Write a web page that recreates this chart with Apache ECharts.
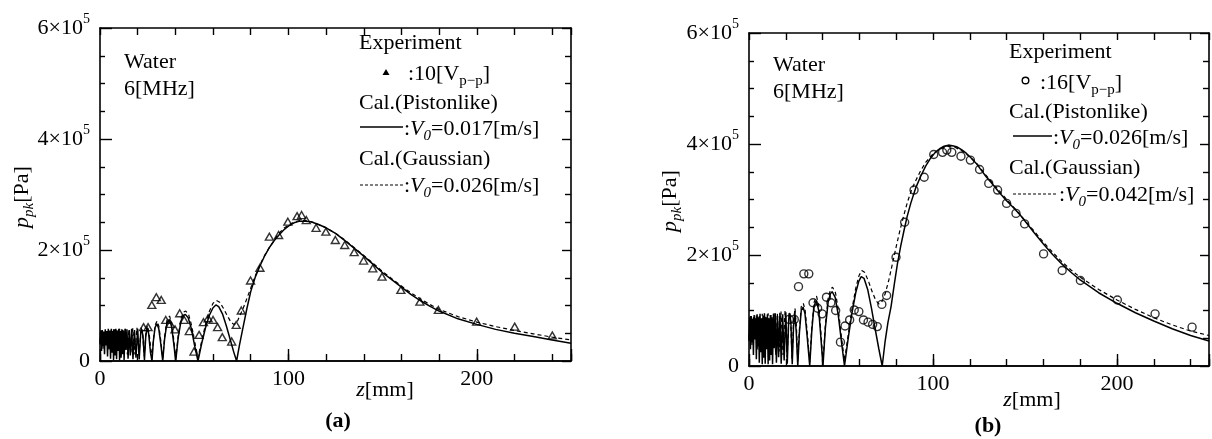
<!DOCTYPE html>
<html><head><meta charset="utf-8">
<script src="https://cdn.jsdelivr.net/npm/echarts@6/dist/echarts.min.js"></script>
<style>html,body{margin:0;padding:0;background:#fff}#c{width:1212px;height:439px}</style>
</head><body><div id="c"></div>
<script>
// z in mm, p in units of 10^5 Pa
const xTickLabels = [0, 100, 200];
const yTickLabels = [0, 2, 4, 6];

const expA = [[23.1,0.61],[25.5,0.61],[27.5,1.01],[29.9,1.15],[32.5,1.10],[34.9,0.74],[37.3,0.67],[39.8,0.57],[42.3,0.86],[44.7,0.74],[47.4,0.54],[49.9,0.17],[52.6,0.47],[54.9,0.70],[57.4,0.77],[60.0,0.74],[62.4,0.61],[64.9,0.43],[69.9,0.35],[72.3,0.65],[75.0,0.91],[79.9,1.45],[84.9,1.68],[89.9,2.24],[94.8,2.27],[99.7,2.51],[104.6,2.61],[107.0,2.63],[109.5,2.54],[114.7,2.40],[119.9,2.33],[124.9,2.18],[129.9,2.09],[134.9,1.96],[139.9,1.81],[144.8,1.67],[149.7,1.52],[159.7,1.28],[169.8,1.07],[179.6,0.92],[199.9,0.71],[220.1,0.62],[240.1,0.46]];

const pistonA = [[0,0.30],[0.4,0.55],[0.8,0.18],[1.2,0.56],[1.6,0.26],[2.0,0.53],[2.4,0.12],[2.8,0.57],[3.2,0.28],[3.6,0.54],[4.0,0.08],[4.4,0.58],[4.8,0.22],[5.2,0.55],[5.6,0.04],[6.0,0.58],[6.4,0.15],[6.8,0.54],[7.2,0.02],[7.6,0.57],[8.0,0.10],[8.4,0.58],[8.8,0.03],[9.2,0.55],[9.6,0.18],[10.0,0.58],[10.4,0.02],[10.8,0.54],[11.2,0.06],[11.6,0.57],[12.0,0.12],[12.4,0.55],[12.8,0.02],[13.3,0.58],[13.8,0.20],[14.3,0.57],[14.9,0.04],[15.5,0.56],[16.1,0.10],[16.8,0.58],[17.5,0.03],[18.3,0.56],[19.1,0.06],[20.0,0.58],[20.8,0.03],[21.6,0.50],[22.2,0.57],[22.8,0.45],[23.6,0.02],[24.3,0.45],[25.0,0.60],[25.8,0.50],[26.8,0.15],[27.6,0.00],[28.3,0.35],[29.2,0.60],[30.2,0.67],[31.2,0.58],[32.3,0.30],[33.3,0.00],[34.3,0.40],[35.5,0.68],[36.8,0.75],[38.0,0.62],[39.2,0.30],[40.2,0.00],[41.5,0.42],[43.0,0.72],[44.2,0.82],[45.3,0.84],[46.8,0.78],[48.5,0.58],[50.2,0.28],[52.0,0.00],[54.0,0.32],[56.0,0.60],[58.0,0.82],[60.0,0.96],[61.5,1.01],[63.0,0.98],[65.0,0.85],[67.0,0.64],[69.0,0.40],[71.0,0.16],[72.5,0.00],[74.0,0.28],[76.0,0.62],[78.0,0.95],[80.0,1.25],[82.5,1.52],[85.0,1.72],[87.5,1.90],[90.0,2.05],[92.5,2.17],[95.0,2.27],[97.5,2.36],[100.0,2.43],[103.0,2.49],[106.0,2.52],[109.0,2.52],[112.0,2.51],[116.0,2.46],[120.0,2.40],[125.0,2.30],[130.0,2.17],[135.0,2.03],[140.0,1.89],[145.0,1.74],[150.0,1.59],[155.0,1.46],[160.0,1.33],[165.0,1.20],[170.0,1.09],[175.0,0.99],[180.0,0.90],[190.0,0.76],[200.0,0.66],[210.0,0.57],[220.0,0.50],[230.0,0.44],[240.0,0.38],[250.0,0.32]];

const gaussA = [[0,0.35],[0.8,0.55],[1.6,0.22],[2.4,0.54],[3.2,0.30],[4.0,0.56],[4.8,0.18],[5.6,0.55],[6.4,0.26],[7.2,0.57],[8.0,0.15],[8.8,0.55],[9.6,0.24],[10.4,0.58],[11.2,0.14],[12.0,0.56],[12.8,0.22],[13.6,0.58],[14.5,0.12],[15.4,0.57],[16.4,0.16],[17.4,0.59],[18.5,0.12],[19.6,0.60],[20.7,0.10],[21.8,0.60],[22.6,0.50],[23.5,0.08],[24.3,0.48],[25.1,0.64],[26.0,0.52],[27.5,0.06],[28.4,0.40],[29.3,0.65],[30.3,0.72],[31.3,0.62],[32.4,0.33],[33.3,0.05],[34.3,0.44],[35.5,0.73],[36.9,0.81],[38.1,0.68],[39.3,0.34],[40.2,0.05],[41.5,0.45],[43.0,0.77],[44.3,0.88],[45.5,0.90],[47.0,0.84],[48.7,0.63],[50.4,0.32],[52.0,0.06],[54.0,0.36],[56.0,0.66],[58.0,0.89],[60.0,1.04],[61.8,1.09],[63.5,1.06],[65.5,0.95],[67.5,0.82],[69.5,0.70],[71.0,0.66],[72.5,0.68],[74.0,0.80],[76.0,0.95],[78.0,1.13],[80.0,1.31],[82.0,1.50],[84.0,1.66],[86.0,1.81],[88.0,1.94],[90.0,2.05],[92.5,2.18],[95.0,2.30],[97.5,2.39],[100.0,2.45],[103.0,2.50],[106.0,2.53],[109.0,2.53],[112.0,2.51],[116.0,2.46],[120.0,2.40],[125.0,2.30],[130.0,2.18],[135.0,2.04],[140.0,1.90],[145.0,1.76],[150.0,1.61],[155.0,1.48],[160.0,1.35],[165.0,1.23],[170.0,1.12],[175.0,1.02],[180.0,0.93],[190.0,0.80],[200.0,0.70],[210.0,0.62],[220.0,0.55],[230.0,0.49],[240.0,0.43],[250.0,0.38]];

const expB = [[21.9,0.84],[24.6,0.84],[26.9,1.43],[29.8,1.66],[32.5,1.66],[34.8,1.14],[37.3,1.04],[39.7,0.94],[42.1,1.24],[44.5,1.14],[47.1,1.00],[49.7,0.43],[52.2,0.72],[54.7,0.83],[57.2,1.01],[59.7,0.98],[62.2,0.83],[64.7,0.79],[67.2,0.75],[69.7,0.71],[72.2,1.11],[74.8,1.27],[79.9,1.96],[84.6,2.59],[89.7,3.17],[95.2,3.40],[100.4,3.81],[105.2,3.85],[107.5,3.89],[110.2,3.85],[115.2,3.78],[120.3,3.71],[125.3,3.54],[130.3,3.29],[135.1,3.17],[140.0,2.93],[145.1,2.75],[149.8,2.56],[160.1,2.02],[170.2,1.72],[180.1,1.54],[200.2,1.19],[220.7,0.94],[240.8,0.70]];

const pistonB = [[0,0.45],[0.4,0.88],[0.8,0.30],[1.2,0.90],[1.6,0.42],[2.0,0.85],[2.4,0.20],[2.8,0.92],[3.2,0.48],[3.6,0.86],[4.0,0.12],[4.4,0.93],[4.8,0.35],[5.2,0.88],[5.6,0.06],[6.0,0.94],[6.4,0.25],[6.8,0.86],[7.2,0.03],[7.6,0.91],[8.0,0.15],[8.4,0.95],[8.8,0.04],[9.2,0.88],[9.6,0.30],[10.0,0.93],[10.4,0.03],[10.8,0.86],[11.2,0.10],[11.6,0.92],[12.0,0.20],[12.4,0.88],[12.8,0.03],[13.3,0.94],[13.8,0.32],[14.3,0.95],[14.9,0.06],[15.5,0.90],[16.1,0.16],[16.8,0.96],[17.5,0.04],[18.3,0.93],[19.1,0.10],[20.0,0.97],[20.8,0.04],[21.6,0.85],[22.2,0.95],[22.8,0.75],[23.5,0.03],[24.2,0.70],[24.9,0.98],[25.7,0.60],[26.5,0.00],[27.4,0.60],[28.4,1.00],[29.4,1.06],[30.4,0.95],[31.7,0.50],[33.0,0.00],[34.1,0.62],[35.3,1.08],[36.6,1.18],[37.9,1.00],[39.1,0.50],[40.2,0.00],[41.5,0.68],[43.0,1.15],[44.2,1.30],[45.2,1.34],[46.8,1.24],[48.5,0.92],[50.2,0.45],[51.9,0.00],[54.0,0.52],[56.0,0.96],[58.0,1.32],[59.7,1.53],[61.0,1.61],[62.5,1.58],[64.5,1.38],[66.5,1.05],[68.5,0.68],[70.5,0.32],[72.4,0.00],[74.0,0.45],[75.5,0.78],[77.2,1.07],[79.0,1.48],[80.7,1.85],[82.5,2.17],[84.3,2.45],[86.0,2.70],[87.9,2.93],[90.5,3.20],[93.2,3.41],[96.0,3.60],[98.6,3.74],[101.0,3.84],[103.9,3.92],[106.0,3.96],[108.4,3.98],[110.5,3.97],[112.8,3.95],[115.5,3.90],[118.2,3.83],[121.0,3.74],[123.5,3.65],[126.2,3.53],[128.9,3.41],[131.5,3.31],[134.2,3.20],[137.0,3.09],[139.6,2.99],[142.3,2.90],[144.9,2.81],[147.6,2.71],[150.3,2.60],[155.0,2.40],[160.0,2.20],[165.0,2.01],[170.0,1.84],[175.0,1.69],[180.0,1.55],[190.0,1.32],[200.0,1.13],[210.0,0.96],[220.0,0.81],[230.0,0.67],[240.0,0.55],[250.0,0.45]];

const gaussB = [[0,0.50],[0.8,0.90],[1.6,0.38],[2.4,0.88],[3.2,0.50],[4.0,0.92],[4.8,0.30],[5.6,0.90],[6.4,0.42],[7.2,0.94],[8.0,0.25],[8.8,0.90],[9.6,0.40],[10.4,0.95],[11.2,0.22],[12.0,0.92],[12.8,0.36],[13.6,0.97],[14.5,0.20],[15.4,0.95],[16.4,0.26],[17.4,0.98],[18.5,0.20],[19.6,1.00],[20.7,0.16],[21.8,0.98],[22.6,0.85],[23.4,0.12],[24.2,0.78],[25.0,1.04],[25.8,0.70],[26.5,0.08],[27.4,0.66],[28.4,1.07],[29.5,1.13],[30.5,1.01],[31.8,0.55],[33.0,0.07],[34.1,0.68],[35.4,1.15],[36.7,1.26],[38.0,1.07],[39.2,0.55],[40.2,0.08],[41.5,0.74],[43.0,1.22],[44.3,1.38],[45.4,1.42],[47.0,1.32],[48.7,0.98],[50.3,0.50],[51.9,0.10],[54.0,0.58],[56.0,1.03],[58.0,1.40],[59.8,1.63],[61.3,1.72],[62.8,1.69],[64.8,1.54],[66.8,1.35],[68.8,1.19],[70.5,1.12],[72.0,1.14],[74.0,1.30],[76.0,1.55],[78.0,1.85],[80.0,2.15],[82.0,2.44],[84.0,2.70],[86.0,2.94],[88.0,3.14],[90.0,3.30],[93.0,3.50],[96.0,3.67],[100.0,3.82],[104.0,3.92],[108.0,3.96],[112.0,3.94],[116.0,3.87],[120.0,3.77],[124.0,3.64],[128.0,3.47],[132.0,3.31],[136.0,3.16],[140.0,3.00],[145.0,2.82],[150.0,2.62],[155.0,2.43],[160.0,2.23],[165.0,2.05],[170.0,1.88],[175.0,1.73],[180.0,1.60],[190.0,1.38],[200.0,1.19],[210.0,1.02],[220.0,0.87],[230.0,0.74],[240.0,0.63],[250.0,0.55]];

const textsA = ['Water', '6[MHz]', 'Experiment', '{n|:10[V}{sub|p\u2212p}{n|]}', 'Cal.(Pistonlike)', '{n|:}{i|V}{isub|0}{n|=0.017[m/s]}', 'Cal.(Gaussian)', '{n|:}{i|V}{isub|0}{n|=0.026[m/s]}', '(a)'];
const textsB = ['Water', '6[MHz]', 'Experiment', '{n|:16[V}{sub|p\u2212p}{n|]}', 'Cal.(Pistonlike)', '{n|:}{i|V}{isub|0}{n|=0.026[m/s]}', 'Cal.(Gaussian)', '{n|:}{i|V}{isub|0}{n|=0.042[m/s]}', '(b)'];
const xName = '{i|z}{n|[mm]}';
const yName = '{i|p}{isub|pk}{n|[Pa]}';

const FONT = 'Liberation Serif';
const FS = 22;
function richEC() {
  return {
    n: {fontFamily: FONT, fontSize: FS, color: '#000', lineHeight: 32},
    s: {fontFamily: FONT, fontSize: 14, color: '#000', verticalAlign: 'top', lineHeight: 14}
  };
}
function richZR() {
  return {
    n: {fontFamily: FONT, fontSize: FS, lineHeight: 30},
    i: {fontFamily: FONT, fontSize: FS, fontStyle: 'italic', lineHeight: 30},
    sub: {fontFamily: FONT, fontSize: 15, verticalAlign: 'bottom', lineHeight: 14},
    isub: {fontFamily: FONT, fontSize: 15, fontStyle: 'italic', verticalAlign: 'bottom', lineHeight: 14}
  };
}

const grids = [
  {left: 100, top: 28, width: 471, height: 333},
  {left: 749, top: 33, width: 467.5, height: 333}
];

const axLine = {show: true, onZero: false, lineStyle: {color: '#000', width: 1.6}};
function xAxes(g) {
  const base = {gridIndex: g, type: 'value', min: 0, max: 250, splitLine: {show: false}, axisLine: axLine};
  return [
    Object.assign({}, base, {position: 'bottom', interval: 20,
      axisTick: {inside: true, length: 7, lineStyle: {color: '#000', width: 1.4}},
      axisLabel: {formatter: v => xTickLabels.includes(v) ? String(v) : '', fontFamily: FONT, fontSize: FS, color: '#000', margin: 7}}),
    Object.assign({}, base, {position: 'bottom', interval: 100,
      axisTick: {inside: true, length: 12, lineStyle: {color: '#000', width: 1.4}}, axisLabel: {show: false}}),
    Object.assign({}, base, {position: 'top', interval: 20,
      axisTick: {inside: true, length: 7, lineStyle: {color: '#000', width: 1.4}}, axisLabel: {show: false}})
  ];
}
function yAxes(g) {
  const base = {gridIndex: g, type: 'value', min: 0, max: 6, interval: 2, splitLine: {show: false}, axisLine: axLine,
    minorTick: {show: true, splitNumber: 4, length: 5, lineStyle: {color: '#000', width: 1.4}}, minorSplitLine: {show: false}};
  return [
    Object.assign({}, base, {position: 'left',
      axisTick: {inside: true, length: 12, lineStyle: {color: '#000', width: 1.4}},
      axisLabel: {margin: 10, formatter: v => yTickLabels.includes(v) ? (v === 0 ? '{n|0}' : '{n|' + v + '\u00d710}{s|5}') : '', rich: richEC()}}),
    Object.assign({}, base, {position: 'right',
      axisTick: {inside: true, length: 9, lineStyle: {color: '#000', width: 1.4}},
      minorTick: {show: true, splitNumber: 4, length: 6, lineStyle: {color: '#000', width: 1.4}},
      axisLabel: {show: false}})
  ];
}

function lineSeries(xi, yi, data, dashed) {
  return {type: 'line', xAxisIndex: xi, yAxisIndex: yi, data: data, symbol: 'none', animation: false, silent: true,
    lineStyle: dashed ? {color: '#000', width: 1.2, type: [4, 3]} : {color: '#000', width: 1.5}, z: 2};
}
function scatterSeries(xi, yi, data, sym) {
  return {type: 'scatter', xAxisIndex: xi, yAxisIndex: yi, data: data, symbol: sym,
    symbolSize: sym === 'triangle' ? [8, 7] : 8, animation: false, silent: true,
    itemStyle: {color: 'rgba(0,0,0,0)', borderColor: '#000', borderWidth: 1.4}, z: 3};
}

function gtext(x, y, text, extra) {
  return Object.assign({type: 'text', x: x, y: y, silent: true,
    style: Object.assign({text: text, font: FS + 'px "' + FONT + '"', fill: '#000', align: 'left', verticalAlign: 'middle',
      textAlign: 'left', textVerticalAlign: 'middle', rich: richZR()}, extra && extra.style || {})},
    extra && extra.el || {});
}

function panelGraphics(t, P) {
  return [
    gtext(P.wx, P.wy, t[0]),
    gtext(P.wx, P.wy + 27, t[1]),
    gtext(P.lx, P.ly, t[2]),
    gtext(P.mtx, P.ly + 31, t[3]),
    gtext(P.lx, P.ly + 60, t[4]),
    {type: 'line', silent: true, shape: {x1: P.sx1, y1: P.ly + 84, x2: P.sx2, y2: P.ly + 84}, style: {stroke: '#000', lineWidth: 1.4}},
    gtext(P.vx, P.ly + 86, t[5]),
    gtext(P.lx, P.ly + 116, t[6]),
    {type: 'line', silent: true, shape: {x1: P.sx1, y1: P.ly + 142, x2: P.dx2, y2: P.ly + 142}, style: {stroke: '#000', lineWidth: 1.2, lineDash: [3, 2]}},
    gtext(P.vx2, P.ly + 143, t[7]),
    gtext(P.cx, P.cy, t[8], {style: {align: 'center', textAlign: 'center', font: 'bold ' + FS + 'px "' + FONT + '"'}}),
    gtext(P.zx, P.zy, xName, {style: {align: 'center', textAlign: 'center'}}),
    gtext(P.px, P.py, yName, {style: {align: 'center', textAlign: 'center'}, el: {rotation: Math.PI / 2}})
  ];
}

const graphics = [].concat(
  panelGraphics(textsA, {wx: 124, wy: 62, lx: 359, ly: 43, mtx: 408, sx1: 360, sx2: 403, dx2: 403, vx: 404, vx2: 404, cx: 338, cy: 421, zx: 385, zy: 390, px: 22, py: 197}),
  panelGraphics(textsB, {wx: 773, wy: 65, lx: 1009, ly: 52, mtx: 1040, sx1: 1013, sx2: 1052, dx2: 1057, vx: 1053, vx2: 1059, cx: 988, cy: 426, zx: 1032, zy: 400, px: 670, py: 201}),
  [
    {type: 'polygon', silent: true, shape: {points: [[386, 69], [382.5, 75], [389.5, 75]]}, style: {fill: '#000'}},
    {type: 'circle', silent: true, shape: {cx: 1025.5, cy: 80.5, r: 3.3}, style: {fill: 'none', stroke: '#000', lineWidth: 1.4}}
  ]
);

const chart = echarts.init(document.getElementById('c'), null, {renderer: 'canvas'});
chart.setOption({
  backgroundColor: '#fff',
  animation: false,
  grid: grids,
  xAxis: [].concat(xAxes(0), xAxes(1)),
  yAxis: [].concat(yAxes(0), yAxes(1)),
  series: [
    lineSeries(0, 0, pistonA, false),
    lineSeries(0, 0, gaussA, true),
    scatterSeries(0, 0, expA, 'triangle'),
    lineSeries(3, 2, pistonB, false),
    lineSeries(3, 2, gaussB, true),
    scatterSeries(3, 2, expB, 'circle')
  ],
  graphic: graphics
});
</script>
</body></html>
